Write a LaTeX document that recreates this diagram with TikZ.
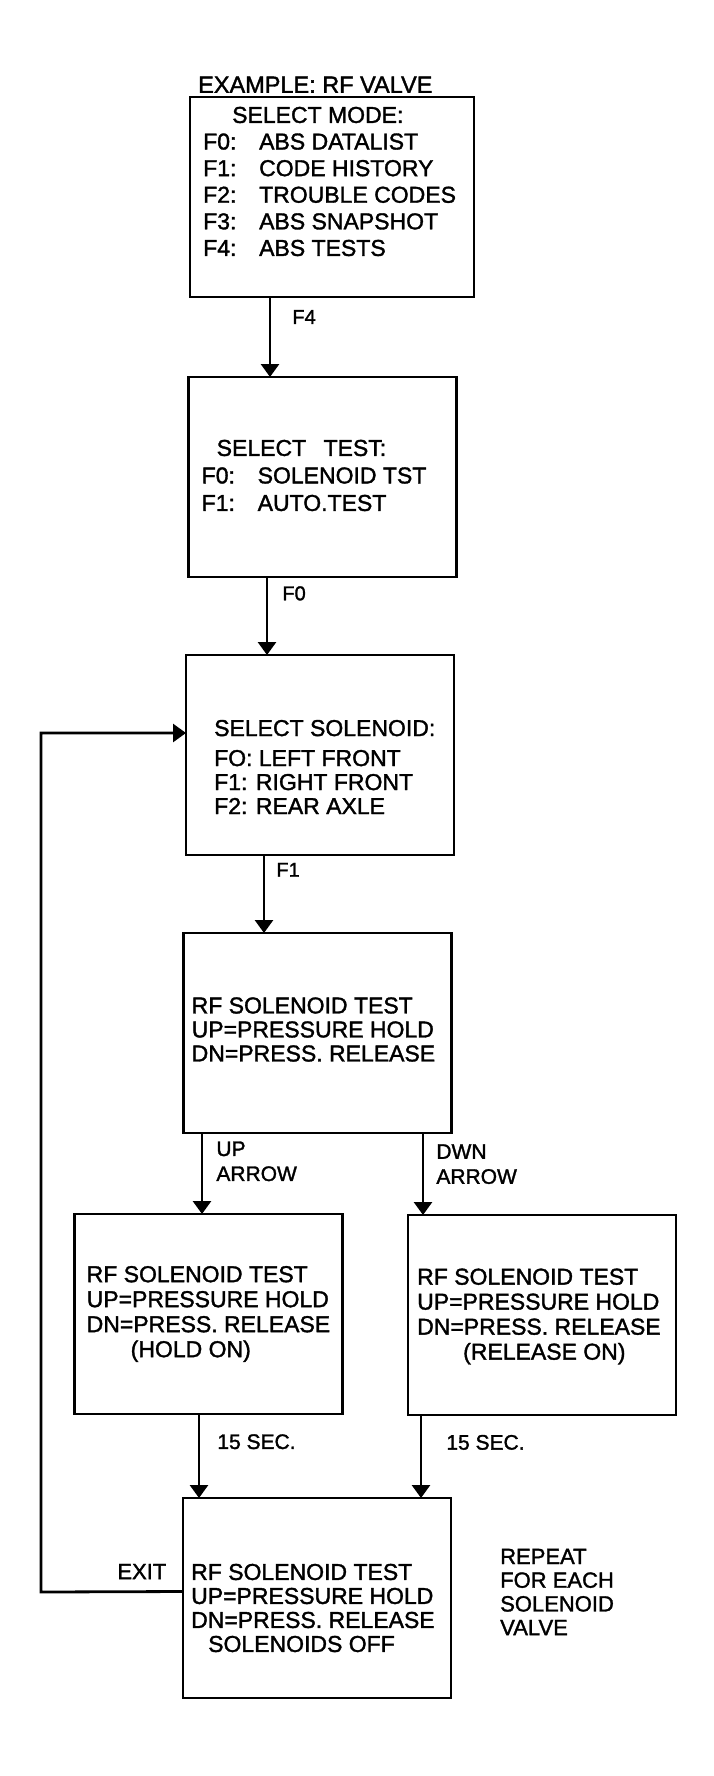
\documentclass[tikz,border=0pt]{standalone}
\usepackage{fontspec}
\setmainfont[FakeBold = 1.5]{Liberation Sans}
\usepackage{tikz}
\usetikzlibrary{arrows.meta}
\tikzset{arrow/.style = {> = {Triangle[length = 13pt, width = 18pt]}, line width = 2.8pt}}
\usetikzlibrary{positioning}
\tikzset{
	box/.style = {draw, line width = 2.8pt, outer sep = 0pt, minimum width = 268pt, minimum height = 200pt, inner sep = 0pt},
	boxtext/.style = {inner sep = 0pt, align = left, font = \fontsize{23pt}{24pt}\selectfont},
	lbl/.style = {inner sep = 0pt, align = left, font = \fontsize{21pt}{25pt}\selectfont}
}
\newcommand{\fkey}[1]{\makebox[56pt][l]{#1}}

\begin{document}
\begin{tikzpicture}[x = 1pt, y = -1pt]
	\path[fill = white, use as bounding box] (0, 0) rectangle (714, 1776);

	%% Level 0
	\node[box, minimum width = 284pt] (mode) at (332, 197) {};
	\node[above right = 4pt and 8pt of mode.north west, inner sep = 0pt, font = \fontsize{23.5pt}{26pt}\selectfont] (example) {EXAMPLE: RF VALVE};

	%% Level 1
	\node[box, below = 80pt of mode, xshift = -9.5pt] (test) {};
	\node[box, below = 78pt of test, xshift = -2.5pt] (solsel) {};
	\node[box, below = 78pt of solsel, xshift = -2.5pt] (rftest) {};

	%% Level 2
	\node[box, below = 81pt of rftest, xshift = -109pt] (hold) {};
	\node[box, below = 82pt of rftest, xshift = 224.5pt] (release) {};
	\node[box, below = 84pt of hold, xshift = 108.5pt] (off) {};

	%% Texts in the boxes
	\node[boxtext, right = 13pt of mode.west, yshift = 15.5pt, font = \fontsize{23pt}{26.6pt}\selectfont] (modetext) {%
		\hspace*{29pt}SELECT MODE:\\
		\fkey{F0:}ABS DATALIST\\
		\fkey{F1:}CODE HISTORY\\
		\fkey{F2:}TROUBLE CODES\\
		\fkey{F3:}ABS SNAPSHOT\\
		\fkey{F4:}ABS TESTS};
	\node[boxtext, right = 13pt of test.west, yshift = 1.5pt, font = \fontsize{23pt}{27.5pt}\selectfont] (testtext) {%
		\hspace*{15pt}SELECT\hspace{11pt} TEST:\\
		\fkey{F0:}SOLENOID TST\\
		\fkey{F1:}AUTO.TEST};
	\node[boxtext, right = 28pt of solsel.west, yshift = -12pt] (solseltext) {%
		SELECT SOLENOID:\\[6pt]
		FO: LEFT FRONT\\
		F1: RIGHT FRONT\\
		F2: REAR AXLE};
	\node[boxtext, right = 8pt of rftest.west, yshift = 3.5pt] (rftesttext) {%
		RF SOLENOID TEST\\
		UP=PRESSURE HOLD\\
		DN=PRESS. RELEASE};
	\node[boxtext, right = 12pt of hold.west, font = \fontsize{23pt}{25pt}\selectfont] (holdtext) {%
		RF SOLENOID TEST\\
		UP=PRESSURE HOLD\\
		DN=PRESS. RELEASE\\
		\hspace*{44pt}(HOLD ON)};
	\node[boxtext, right = 9pt of release.west, yshift = -1.5pt, font = \fontsize{23pt}{25pt}\selectfont] (releasetext) {%
		RF SOLENOID TEST\\
		UP=PRESSURE HOLD\\
		DN=PRESS. RELEASE\\
		\hspace*{46pt}(RELEASE ON)};
	\node[boxtext, right = 8pt of off.west, yshift = -10pt] (offtext) {%
		RF SOLENOID TEST\\
		UP=PRESSURE HOLD\\
		DN=PRESS. RELEASE\\
		\hspace*{17pt}SOLENOIDS OFF};

	%% Connectors
	\draw[arrow, ->] ([xshift = -62pt]mode.south) -- ([xshift = -62pt]mode.south |- test.north)
		node[lbl, pos = 0.25, right = 21pt, font = \fontsize{20pt}{24pt}\selectfont] (ffour) {F4};
	\draw[arrow, ->] ([xshift = -55.5pt]test.south) -- ([xshift = -55.5pt]test.south |- solsel.north)
		node[lbl, pos = 0.21, right = 14pt, font = \fontsize{20pt}{24pt}\selectfont] (fzero) {F0};
	\draw[arrow, ->] ([xshift = -56pt]solsel.south) -- ([xshift = -56pt]solsel.south |- rftest.north)
		node[lbl, pos = 0.19, right = 11pt, font = \fontsize{20pt}{24pt}\selectfont] (fone) {F1};
	\draw[arrow, ->] ([xshift = -115.5pt]rftest.south) -- ([xshift = -115.5pt]rftest.south |- hold.north)
		node[lbl, pos = 0.35, right = 13pt] (uparrow) {UP\\ARROW};
	\draw[arrow, ->] ([xshift = 105.5pt]rftest.south) -- ([xshift = 105.5pt]rftest.south |- release.north)
		node[lbl, pos = 0.38, right = 12pt] (dwnarrow) {DWN\\ARROW};
	\draw[arrow, ->] ([xshift = -9.5pt]hold.south) -- ([xshift = -9.5pt]hold.south |- off.north)
		node[lbl, pos = 0.33, right = 17pt] (holdsec) {15 SEC.};
	\draw[arrow, ->] ([xshift = -121pt]release.south) -- ([xshift = -121pt]release.south |- off.north)
		node[lbl, pos = 0.33, right = 24pt] (releasesec) {15 SEC.};

	%% Loop back
	\coordinate (loopcorner) at (41, 1592);
	\draw[arrow, ->] ([yshift = 6.5pt]off.west) -- (loopcorner) |- ([yshift = 22pt]solsel.west);
	\node[lbl, left = 16.5pt of off.west, yshift = 26.5pt, font = \fontsize{22pt}{24pt}\selectfont] (exit) {EXIT};

	\node[lbl, right = 49pt of off.east, yshift = 6pt, font = \fontsize{22pt}{23.7pt}\selectfont] (note) {REPEAT\\FOR EACH\\SOLENOID\\VALVE};

\end{tikzpicture}
\end{document}
